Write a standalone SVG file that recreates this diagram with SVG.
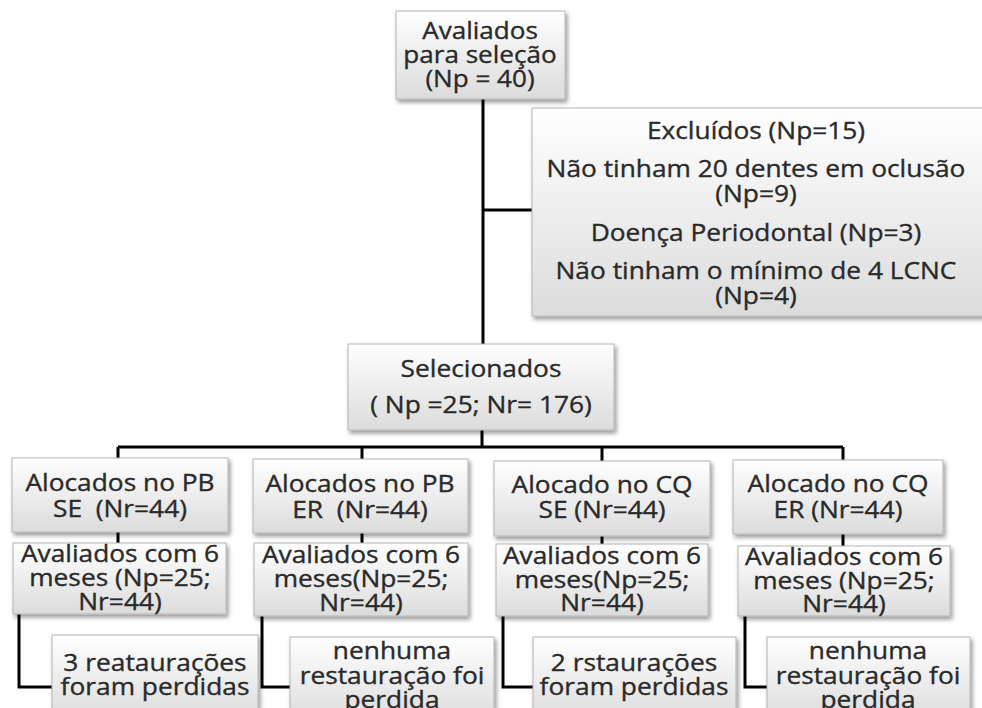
<svg xmlns="http://www.w3.org/2000/svg" width="982" height="708" viewBox="0 0 982 708">
<style>
.box{fill:url(#g);stroke:#b4b4b4;stroke-width:1;filter:url(#sh)}
.t{font-family:"Open Sans","Liberation Sans",sans-serif;font-size:23.5px;fill:#2a2a2a;stroke:#2a2a2a;stroke-width:0.35;text-anchor:middle}
.c{fill:none;stroke:#000;stroke-width:3}
</style>
<defs>
<linearGradient id="g" x1="0" y1="0" x2="0" y2="1">
<stop offset="0" stop-color="#ffffff"/>
<stop offset="1" stop-color="#dcdcdc"/>
</linearGradient>
<filter id="sh" x="-10%" y="-10%" width="130%" height="140%">
<feDropShadow dx="2" dy="3" stdDeviation="2" flood-color="#000" flood-opacity="0.4"/>
</filter>
</defs>
<rect width="982" height="708" fill="#fff"/>
<g id="connectors">
<path class="c" d="M483 99V344M483 210H532"/>
<path class="c" d="M482 430V447M118 447H843M118 447V459M362 447V459M602 447V461M843 447V460"/>
<path class="c" d="M118 532V543M362 533V543M602 536V544M843 534V546"/>
<path class="c" d="M19 614V687H52M262 616V687H290M503 616V687H533M745 616V687H767"/>
</g>
<g id="avaliados">
<rect class="box" x="396" y="11" width="169" height="88"/>
<text class="t" transform="translate(480 0) scale(1.11 1)"><tspan x="0" y="39">Avaliados</tspan><tspan x="0" y="63">para seleção</tspan><tspan x="0" y="87">(Np = 40)</tspan></text>
</g>
<g id="excluidos">
<rect class="box" x="532" y="108" width="452" height="208"/>
<text class="t" transform="translate(756 0) scale(1.12 1)"><tspan x="0" y="139">Excluídos (Np=15)</tspan><tspan x="0" y="177">Não tinham 20 dentes em oclusão</tspan><tspan x="0" y="202">(Np=9)</tspan><tspan x="0" y="241">Doença Periodontal (Np=3)</tspan><tspan x="0" y="279">Não tinham o mínimo de 4 LCNC</tspan><tspan x="0" y="304">(Np=4)</tspan></text>
</g>
<g id="selecionados">
<rect class="box" x="348" y="344" width="266" height="86"/>
<text class="t" transform="translate(481 0) scale(1.12 1)"><tspan x="0" y="377">Selecionados</tspan><tspan x="0" y="413">( Np =25; Nr= 176)</tspan></text>
</g>
<g id="pb-se">
<rect class="box" x="12" y="458" width="216" height="74"/>
<text class="t" transform="translate(120 0) scale(1.12 1)"><tspan x="0" y="491">Alocados no PB</tspan><tspan x="0" y="517" xml:space="preserve">SE  (Nr=44)</tspan></text>
</g>
<g id="pb-er">
<rect class="box" x="253" y="459" width="215" height="74"/>
<text class="t" transform="translate(360 0) scale(1.12 1)"><tspan x="0" y="492">Alocados no PB</tspan><tspan x="0" y="518" xml:space="preserve">ER  (Nr=44)</tspan></text>
</g>
<g id="cq-se">
<rect class="box" x="494" y="461" width="216" height="75"/>
<text class="t" transform="translate(602 0) scale(1.12 1)"><tspan x="0" y="493">Alocado no CQ</tspan><tspan x="0" y="518">SE (Nr=44)</tspan></text>
</g>
<g id="cq-er">
<rect class="box" x="733" y="460" width="210" height="74"/>
<text class="t" transform="translate(838 0) scale(1.12 1)"><tspan x="0" y="492">Alocado no CQ</tspan><tspan x="0" y="518">ER (Nr=44)</tspan></text>
</g>
<g id="av6-1">
<rect class="box" x="13" y="543" width="213" height="71"/>
<text class="t" transform="translate(120 0) scale(1.12 1)"><tspan x="0" y="562">Avaliados com 6</tspan><tspan x="0" y="586">meses (Np=25;</tspan><tspan x="0" y="610">Nr=44)</tspan></text>
</g>
<g id="av6-2">
<rect class="box" x="254" y="543" width="214" height="73"/>
<text class="t" transform="translate(361 0) scale(1.12 1)"><tspan x="0" y="563">Avaliados com 6</tspan><tspan x="0" y="587">meses(Np=25;</tspan><tspan x="0" y="611">Nr=44)</tspan></text>
</g>
<g id="av6-3">
<rect class="box" x="496" y="544" width="212" height="72"/>
<text class="t" transform="translate(602 0) scale(1.12 1)"><tspan x="0" y="564">Avaliados com 6</tspan><tspan x="0" y="588">meses(Np=25;</tspan><tspan x="0" y="611">Nr=44)</tspan></text>
</g>
<g id="av6-4">
<rect class="box" x="738" y="546" width="212" height="70"/>
<text class="t" transform="translate(844 0) scale(1.12 1)"><tspan x="0" y="565">Avaliados com 6</tspan><tspan x="0" y="589">meses (Np=25;</tspan><tspan x="0" y="612">Nr=44)</tspan></text>
</g>
<g id="perd-1">
<rect class="box" x="52" y="635" width="206" height="85"/>
<text class="t" transform="translate(155 0) scale(1.12 1)"><tspan x="0" y="671">3 reataurações</tspan><tspan x="0" y="695">foram perdidas</tspan></text>
</g>
<g id="perd-2">
<rect class="box" x="290" y="637" width="204" height="85"/>
<text class="t" transform="translate(392 0) scale(1.12 1)"><tspan x="0" y="659">nenhuma</tspan><tspan x="0" y="684">restauração foi</tspan><tspan x="0" y="708">perdida</tspan></text>
</g>
<g id="perd-3">
<rect class="box" x="533" y="637" width="203" height="85"/>
<text class="t" transform="translate(634 0) scale(1.12 1)"><tspan x="0" y="671">2 rstaurações</tspan><tspan x="0" y="695">foram perdidas</tspan></text>
</g>
<g id="perd-4">
<rect class="box" x="767" y="637" width="203" height="85"/>
<text class="t" transform="translate(868 0) scale(1.12 1)"><tspan x="0" y="659">nenhuma</tspan><tspan x="0" y="684">restauração foi</tspan><tspan x="0" y="708">perdida</tspan></text>
</g>
</svg>
